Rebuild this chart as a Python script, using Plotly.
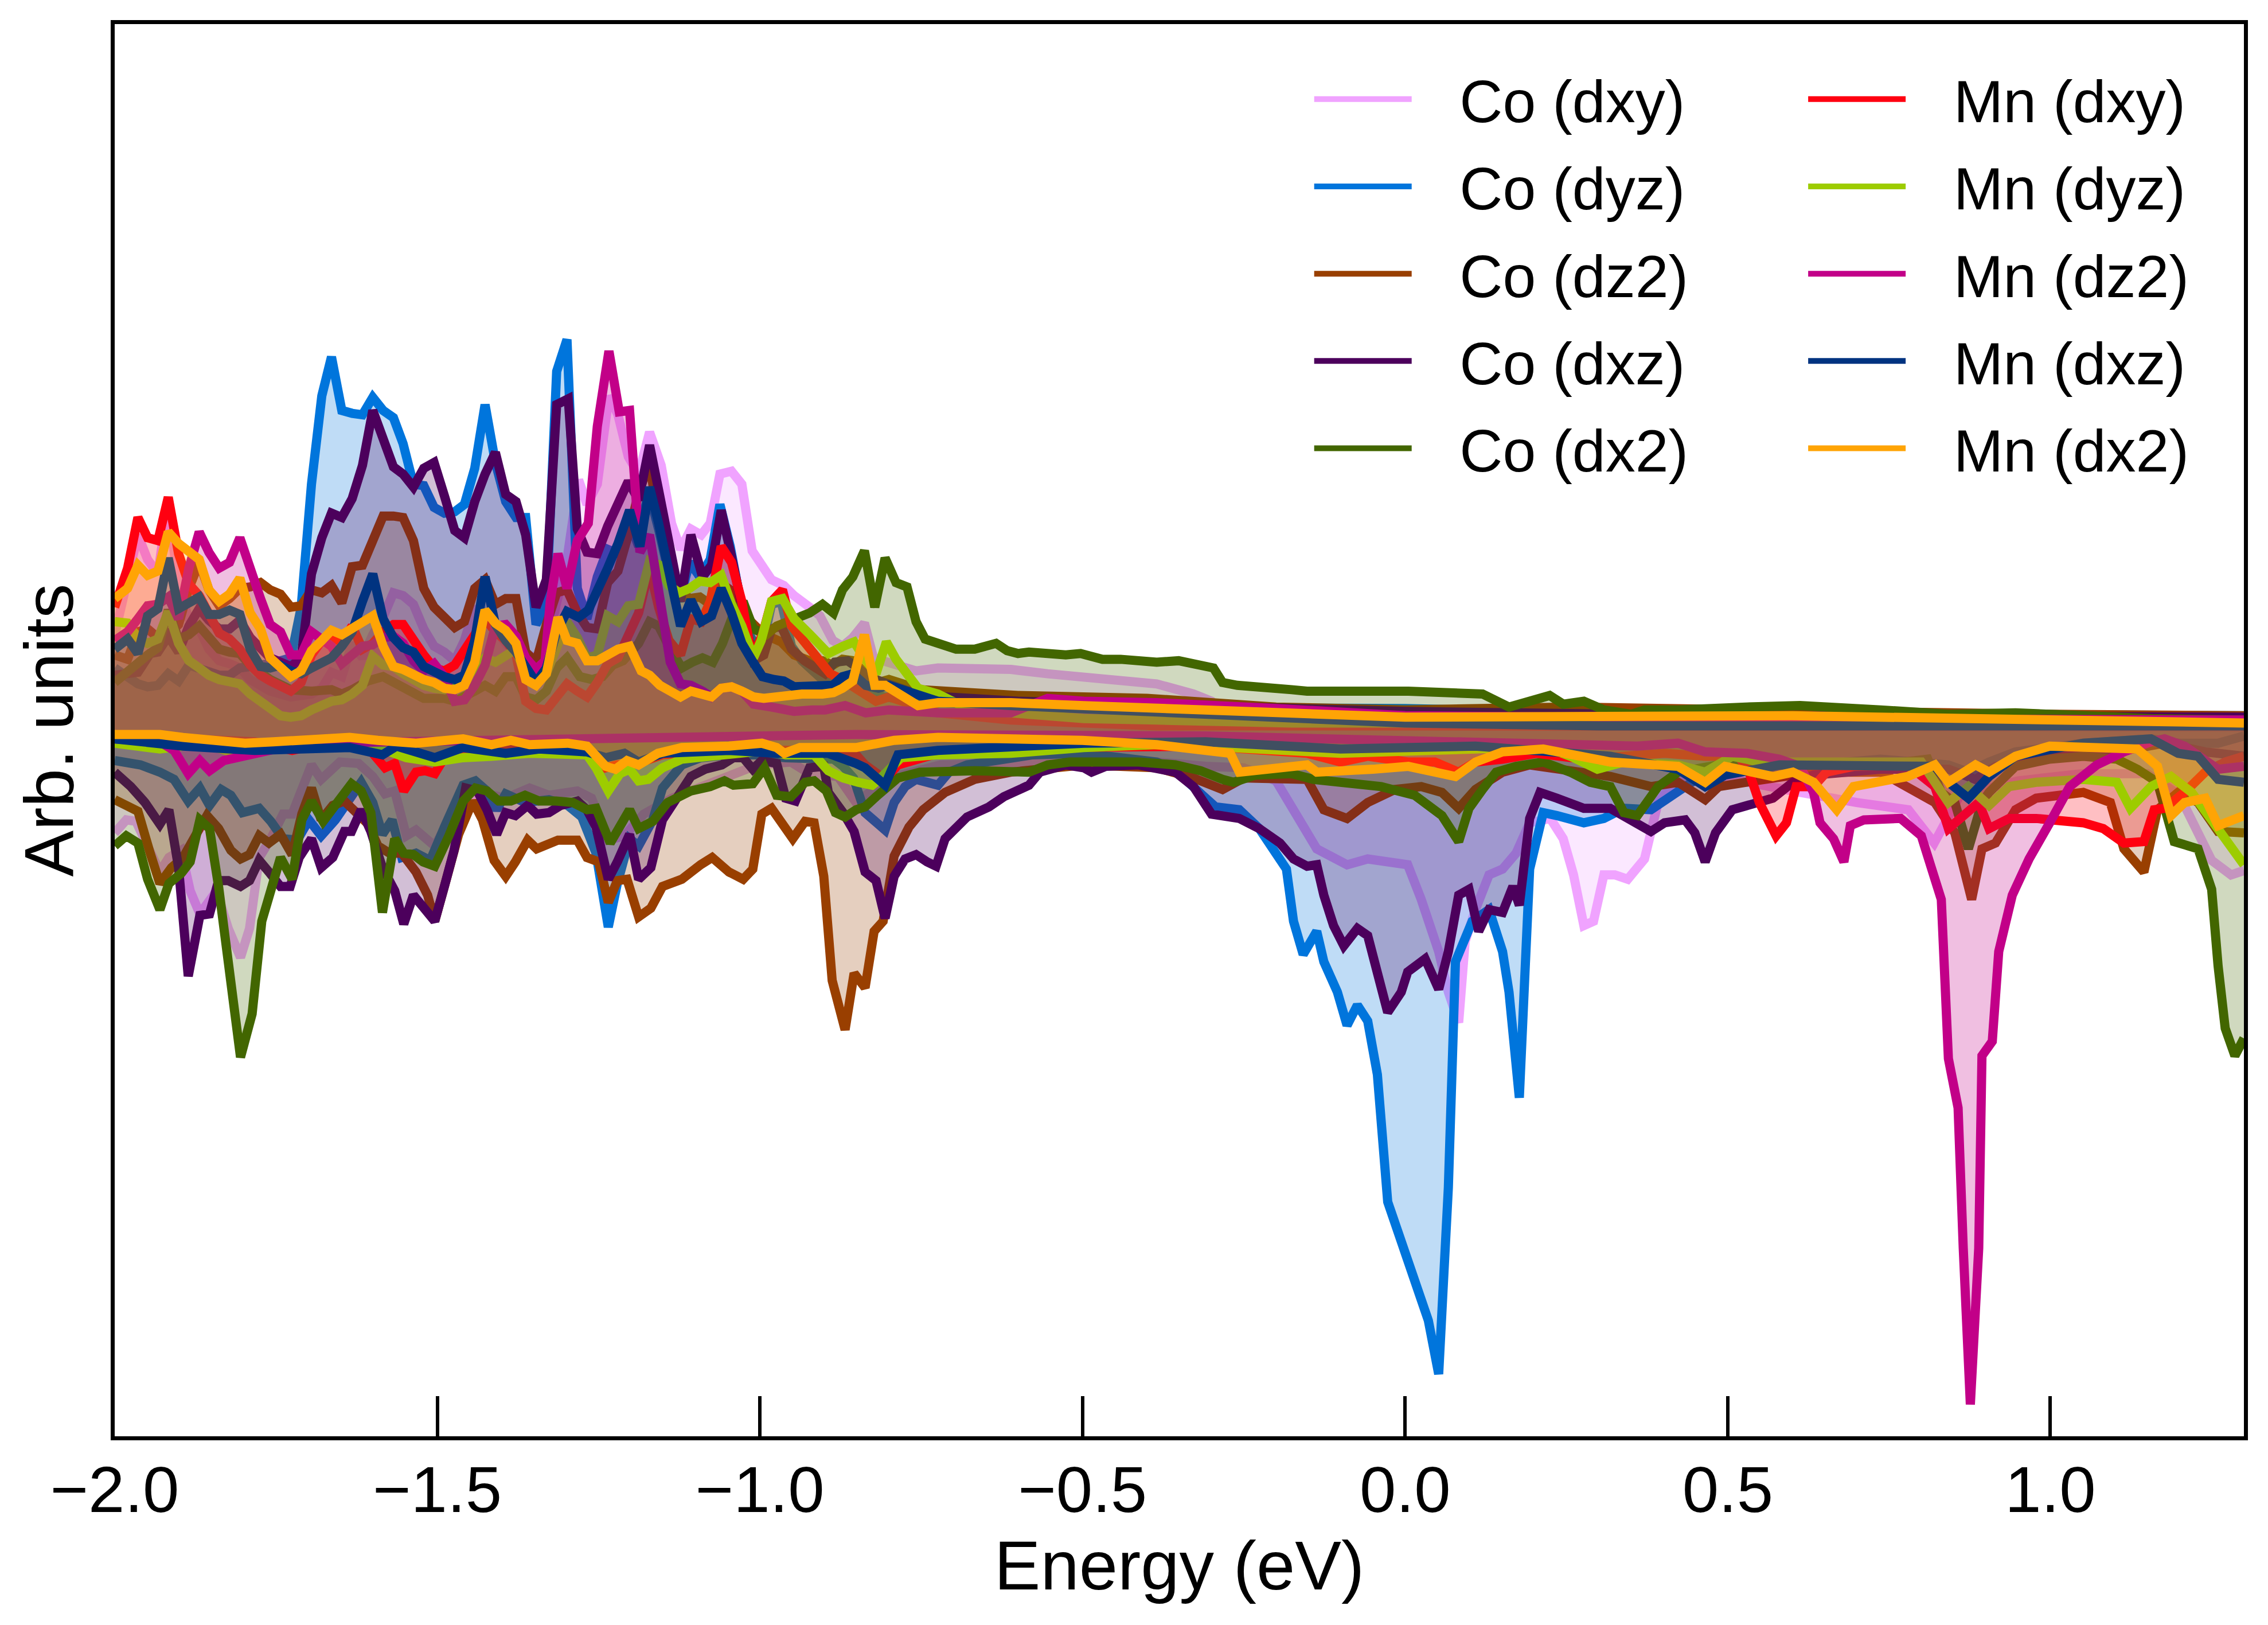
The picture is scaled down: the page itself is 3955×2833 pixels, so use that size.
import plotly.graph_objects as go

# (energy eV, DOS arb. units), spin up (>0) and spin down (<0)
CO_DXY_UP = [(-2.0, 0.66), (-1.98, 1.08), (-1.964, 1.35), (-1.949, 1.18), (-1.933, 1.08), (-1.917, 1.58),
             (-1.901, 0.98), (-1.885, 0.77), (-1.869, 0.70), (-1.854, 0.56), (-1.838, 0.48), (-1.822, 0.46),
             (-1.806, 0.43), (-1.79, 0.35), (-1.759, 0.27), (-1.727, 0.23), (-1.695, 0.25), (-1.679, 0.29),
             (-1.664, 0.40), (-1.648, 0.37), (-1.632, 0.60), (-1.616, 0.50), (-1.60, 0.66), (-1.584, 0.78),
             (-1.568, 0.95), (-1.553, 0.93), (-1.537, 0.87), (-1.521, 0.70), (-1.505, 0.58), (-1.489, 0.54),
             (-1.473, 0.48), (-1.458, 0.62), (-1.442, 0.85), (-1.426, 0.77), (-1.41, 0.70), (-1.394, 0.60),
             (-1.378, 0.55), (-1.347, 0.50), (-1.331, 0.58), (-1.299, 1.18), (-1.281, 1.73), (-1.268, 1.56),
             (-1.252, 1.70), (-1.234, 2.31), (-1.22, 2.18), (-1.204, 1.89), (-1.188, 1.77), (-1.171, 2.06),
             (-1.153, 1.83), (-1.137, 1.43), (-1.123, 1.25), (-1.107, 1.39), (-1.091, 1.35), (-1.077, 1.43),
             (-1.062, 1.77), (-1.044, 1.79), (-1.028, 1.70), (-1.012, 1.24), (-0.996, 1.14), (-0.982, 1.04),
             (-0.963, 1.00), (-0.947, 0.93), (-0.923, 0.85), (-0.907, 0.79), (-0.887, 0.62), (-0.872, 0.58),
             (-0.856, 0.64), (-0.838, 0.74), (-0.824, 0.50), (-0.808, 0.48), (-0.758, 0.41), (-0.724, 0.43),
             (-0.611, 0.42), (-0.554, 0.39), (-0.441, 0.34), (-0.385, 0.32), (-0.328, 0.25), (-0.30, 0.20),
             (-0.29, 0.15), (-0.28, 0.06), (-0.2, 0.03), (0.0, 0.03), (0.5, 0.02), (1.0, 0.02), (1.3, 0.02)]
CO_DXY_DN = [(-2.0, -0.71), (-1.982, -0.62), (-1.967, -0.63), (-1.945, -0.85), (-1.93, -0.98), (-1.916, -0.88),
             (-1.897, -0.83), (-1.883, -1.11), (-1.868, -1.27), (-1.842, -1.11), (-1.824, -1.37), (-1.805, -1.57),
             (-1.791, -1.37), (-1.776, -0.88), (-1.758, -0.75), (-1.739, -0.58), (-1.725, -0.58), (-1.695, -0.24),
             (-1.68, -0.34), (-1.651, -0.22), (-1.622, -0.23), (-1.60, -0.32), (-1.581, -0.44), (-1.566, -0.42),
             (-1.548, -0.73), (-1.533, -0.69), (-1.504, -0.80), (-1.46, -0.45), (-1.423, -0.44), (-1.394, -0.47),
             (-1.357, -0.40), (-1.327, -0.45), (-1.305, -0.44), (-1.283, -0.42), (-1.261, -0.47), (-1.235, -0.76),
             (-1.21, -0.73), (-1.18, -0.58), (-1.136, -0.47), (-1.092, -0.39), (-1.048, -0.32), (-1.004, -0.24),
             (-0.952, -0.22), (-0.923, -0.30), (-0.879, -0.32), (-0.851, -0.50), (-0.83, -0.43), (-0.781, -0.31),
             (-0.72, -0.24), (-0.5, -0.22), (-0.385, -0.22), (-0.309, -0.25), (-0.25, -0.26), (-0.2, -0.35),
             (-0.137, -0.82), (-0.09, -0.93), (-0.058, -0.89), (0.004, -0.93), (0.025, -1.17), (0.052, -1.53),
             (0.067, -1.81), (0.083, -2.02), (0.093, -1.46), (0.109, -1.24), (0.13, -1.00), (0.151, -0.96),
             (0.172, -0.85), (0.193, -0.64), (0.225, -0.61), (0.245, -0.75), (0.261, -1.00), (0.277, -1.35),
             (0.292, -1.32), (0.308, -1.00), (0.325, -1.00), (0.345, -1.03), (0.371, -0.89), (0.392, -0.50),
             (0.423, -0.32), (0.486, -0.32), (0.528, -0.36), (0.60, -0.42), (0.70, -0.50), (0.78, -0.55),
             (0.82, -0.78), (0.86, -0.45), (0.95, -0.35), (1.05, -0.30), (1.15, -0.30), (1.20, -0.45),
             (1.25, -0.90), (1.28, -1.00), (1.30, -0.97)]

CO_DYZ_UP = [(-2.0, 0.43), (-1.964, 0.32), (-1.949, 0.30), (-1.933, 0.31), (-1.917, 0.39), (-1.901, 0.34),
             (-1.885, 0.45), (-1.869, 0.43), (-1.838, 0.38), (-1.822, 0.38), (-1.806, 0.43), (-1.79, 0.44),
             (-1.759, 0.46), (-1.727, 0.50), (-1.711, 0.85), (-1.695, 1.70), (-1.679, 2.31), (-1.664, 2.58),
             (-1.648, 2.21), (-1.632, 2.19), (-1.616, 2.18), (-1.60, 2.30), (-1.584, 2.21), (-1.568, 2.16),
             (-1.553, 1.98), (-1.537, 1.70), (-1.521, 1.69), (-1.505, 1.54), (-1.489, 1.50), (-1.473, 1.51),
             (-1.458, 1.56), (-1.442, 1.81), (-1.426, 2.25), (-1.41, 1.85), (-1.394, 1.58), (-1.378, 1.47),
             (-1.363, 1.47), (-1.347, 0.73), (-1.331, 0.87), (-1.315, 2.48), (-1.299, 2.70), (-1.283, 0.98),
             (-1.268, 0.77), (-1.252, 1.06), (-1.236, 1.25), (-1.22, 1.22), (-1.204, 1.47), (-1.188, 1.27),
             (-1.173, 1.66), (-1.157, 1.39), (-1.141, 1.08), (-1.125, 0.89), (-1.109, 1.16), (-1.093, 1.06),
             (-1.077, 1.18), (-1.062, 1.56), (-1.046, 1.27), (-1.03, 0.89), (-1.014, 0.64), (-0.998, 0.54),
             (-0.982, 0.87), (-0.967, 0.89), (-0.951, 0.58), (-0.935, 0.48), (-0.919, 0.41), (-0.903, 0.35),
             (-0.887, 0.33), (-0.864, 0.33), (-0.848, 0.31), (-0.832, 0.27), (-0.808, 0.23), (-0.75, 0.20),
             (-0.60, 0.16), (-0.30, 0.16), (0.0, 0.15), (0.10, 0.14), (0.20, 0.12), (0.50, 0.12), (0.80, 0.11),
             (1.0, 0.10), (1.3, 0.10)]
CO_DYZ_DN = [(-2.0, -0.21), (-1.96, -0.24), (-1.93, -0.29), (-1.908, -0.34), (-1.886, -0.49), (-1.868, -0.40),
             (-1.853, -0.52), (-1.835, -0.41), (-1.82, -0.45), (-1.802, -0.57), (-1.776, -0.54), (-1.758, -0.63),
             (-1.739, -0.75), (-1.717, -0.76), (-1.699, -0.62), (-1.68, -0.73), (-1.658, -0.62), (-1.636, -0.49),
             (-1.618, -0.36), (-1.60, -0.50), (-1.585, -0.72), (-1.57, -0.62), (-1.555, -0.88), (-1.533, -0.85),
             (-1.511, -0.90), (-1.489, -0.67), (-1.46, -0.38), (-1.441, -0.35), (-1.423, -0.42), (-1.408, -0.55),
             (-1.394, -0.44), (-1.364, -0.50), (-1.327, -0.48), (-1.298, -0.52), (-1.276, -0.60), (-1.254, -0.85),
             (-1.235, -1.36), (-1.221, -1.06), (-1.202, -0.75), (-1.188, -0.80), (-1.166, -0.62), (-1.151, -0.40),
             (-1.121, -0.24), (-1.092, -0.19), (-1.048, -0.17), (-1.004, -0.17), (-0.96, -0.19), (-0.886, -0.20),
             (-0.871, -0.25), (-0.855, -0.33), (-0.837, -0.57), (-0.806, -0.69), (-0.792, -0.50), (-0.775, -0.39),
             (-0.758, -0.34), (-0.724, -0.38), (-0.707, -0.29), (-0.679, -0.24), (-0.634, -0.21), (-0.577, -0.17),
             (-0.498, -0.16), (-0.441, -0.19), (-0.385, -0.22), (-0.356, -0.28), (-0.328, -0.39), (-0.294, -0.53),
             (-0.257, -0.55), (-0.226, -0.68), (-0.184, -0.96), (-0.173, -1.32), (-0.158, -1.55), (-0.137, -1.39),
             (-0.126, -1.60), (-0.105, -1.81), (-0.09, -2.04), (-0.074, -1.90), (-0.058, -2.01), (-0.043, -2.38),
             (-0.027, -3.26), (-0.006, -3.55), (0.01, -3.76), (0.025, -3.93), (0.036, -4.08), (0.052, -4.45),
             (0.067, -3.16), (0.078, -1.60), (0.104, -1.32), (0.13, -1.24), (0.151, -1.53), (0.161, -1.81),
             (0.177, -2.54), (0.193, -0.96), (0.214, -0.57), (0.235, -0.59), (0.277, -0.64), (0.308, -0.61),
             (0.339, -0.54), (0.381, -0.55), (0.423, -0.43), (0.444, -0.36), (0.486, -0.29), (0.528, -0.27),
             (0.633, -0.24), (0.737, -0.20), (0.842, -0.24), (0.873, -0.29), (0.905, -0.22), (0.946, -0.15),
             (1.051, -0.09), (1.156, -0.06), (1.198, -0.09), (1.26, -0.09), (1.30, -0.04)]

CO_DZ2_UP = [(-2.0, 0.52), (-1.98, 0.49), (-1.964, 0.68), (-1.949, 0.70), (-1.933, 0.64), (-1.917, 0.66),
             (-1.901, 0.73), (-1.885, 0.98), (-1.869, 1.16), (-1.854, 0.97), (-1.838, 0.86), (-1.822, 0.91),
             (-1.806, 0.98), (-1.79, 0.99), (-1.774, 1.02), (-1.759, 0.97), (-1.743, 0.94), (-1.727, 0.85),
             (-1.711, 0.86), (-1.695, 0.97), (-1.679, 0.95), (-1.664, 1.00), (-1.648, 0.88), (-1.632, 1.13),
             (-1.616, 1.14), (-1.60, 1.33), (-1.584, 1.48), (-1.568, 1.48), (-1.553, 1.47), (-1.537, 1.31),
             (-1.521, 0.98), (-1.505, 0.85), (-1.489, 0.78), (-1.473, 0.71), (-1.458, 0.75), (-1.442, 0.98),
             (-1.426, 1.04), (-1.41, 0.87), (-1.394, 0.91), (-1.378, 0.91), (-1.363, 0.54), (-1.347, 0.47),
             (-1.331, 0.73), (-1.315, 0.95), (-1.299, 0.97), (-1.283, 0.81), (-1.268, 0.71), (-1.252, 0.70),
             (-1.236, 1.02), (-1.22, 1.10), (-1.204, 1.35), (-1.188, 1.64), (-1.171, 1.85), (-1.157, 1.43),
             (-1.141, 1.12), (-1.125, 0.97), (-1.109, 0.91), (-1.093, 0.92), (-1.077, 0.87), (-1.062, 1.02),
             (-1.046, 0.97), (-1.03, 0.89), (-1.014, 0.75), (-0.998, 0.68), (-0.982, 0.64), (-0.967, 0.61),
             (-0.947, 0.52), (-0.923, 0.48), (-0.903, 0.48), (-0.887, 0.45), (-0.872, 0.49), (-0.856, 0.48),
             (-0.836, 0.39), (-0.816, 0.33), (-0.80, 0.35), (-0.75, 0.28), (-0.60, 0.24), (-0.40, 0.22),
             (-0.20, 0.16), (0.0, 0.14), (0.25, 0.16), (0.50, 0.14), (1.0, 0.11), (1.3, 0.10)]
CO_DZ2_DN = [(-2.0, -0.48), (-1.982, -0.52), (-1.964, -0.56), (-1.945, -0.85), (-1.93, -1.06), (-1.912, -0.95),
             (-1.894, -0.88), (-1.875, -0.73), (-1.857, -0.59), (-1.839, -0.68), (-1.82, -0.83), (-1.805, -0.89),
             (-1.791, -0.86), (-1.776, -0.73), (-1.761, -0.78), (-1.743, -0.72), (-1.725, -0.86), (-1.71, -0.58),
             (-1.695, -0.40), (-1.68, -0.62), (-1.662, -0.52), (-1.644, -0.49), (-1.625, -0.57), (-1.607, -0.65),
             (-1.592, -0.80), (-1.574, -0.85), (-1.555, -0.85), (-1.533, -0.98), (-1.515, -1.14), (-1.504, -1.32),
             (-1.489, -1.08), (-1.467, -0.72), (-1.445, -0.49), (-1.43, -0.62), (-1.412, -0.90), (-1.394, -1.01),
             (-1.379, -0.91), (-1.36, -0.76), (-1.346, -0.82), (-1.331, -0.79), (-1.313, -0.76), (-1.283, -0.76),
             (-1.268, -0.88), (-1.25, -0.91), (-1.235, -1.19), (-1.221, -1.04), (-1.206, -1.03), (-1.188, -1.29),
             (-1.169, -1.23), (-1.151, -1.08), (-1.121, -1.03), (-1.092, -0.93), (-1.074, -0.88), (-1.048, -0.98),
             (-1.026, -1.03), (-1.011, -0.96), (-0.997, -0.58), (-0.982, -0.54), (-0.963, -0.67), (-0.949, -0.75),
             (-0.93, -0.63), (-0.916, -0.64), (-0.901, -1.01), (-0.888, -1.73), (-0.868, -2.07), (-0.854, -1.68),
             (-0.837, -1.78), (-0.823, -1.39), (-0.809, -1.32), (-0.792, -0.87), (-0.769, -0.67), (-0.747, -0.55),
             (-0.713, -0.43), (-0.667, -0.34), (-0.611, -0.29), (-0.554, -0.26), (-0.498, -0.24), (-0.385, -0.26),
             (-0.328, -0.33), (-0.283, -0.41), (-0.25, -0.33), (-0.152, -0.34), (-0.126, -0.55), (-0.09, -0.61),
             (-0.058, -0.50), (-0.016, -0.41), (0.025, -0.39), (0.057, -0.43), (0.083, -0.54), (0.109, -0.41),
             (0.151, -0.29), (0.193, -0.24), (0.318, -0.32), (0.381, -0.39), (0.423, -0.36), (0.465, -0.48),
             (0.486, -0.39), (0.528, -0.36), (0.633, -0.29), (0.737, -0.29), (0.821, -0.50), (0.852, -0.71),
             (0.878, -1.17), (0.894, -0.82), (0.915, -0.78), (0.946, -0.55), (0.978, -0.47), (1.051, -0.43),
             (1.093, -0.50), (1.114, -0.82), (1.145, -0.98), (1.166, -0.55), (1.198, -0.43), (1.229, -0.50),
             (1.26, -0.70), (1.30, -0.71)]

CO_DXZ_UP = [(-2.0, 0.38), (-1.964, 0.40), (-1.945, 0.53), (-1.933, 0.54), (-1.917, 0.65), (-1.901, 0.54),
             (-1.885, 0.72), (-1.869, 0.84), (-1.854, 0.76), (-1.838, 0.70), (-1.822, 0.70), (-1.806, 0.76),
             (-1.79, 0.64), (-1.759, 0.50), (-1.727, 0.44), (-1.711, 0.50), (-1.695, 1.08), (-1.679, 1.33),
             (-1.664, 1.50), (-1.648, 1.47), (-1.632, 1.60), (-1.616, 1.83), (-1.60, 2.21), (-1.584, 2.02),
             (-1.568, 1.82), (-1.553, 1.77), (-1.537, 1.68), (-1.521, 1.81), (-1.505, 1.85), (-1.489, 1.62),
             (-1.473, 1.38), (-1.458, 1.33), (-1.442, 1.58), (-1.426, 1.77), (-1.41, 1.92), (-1.394, 1.63),
             (-1.378, 1.58), (-1.363, 1.35), (-1.347, 0.85), (-1.331, 1.04), (-1.315, 2.25), (-1.297, 2.29),
             (-1.283, 1.39), (-1.268, 1.23), (-1.252, 1.22), (-1.236, 1.41), (-1.22, 1.58), (-1.204, 1.72),
             (-1.188, 1.59), (-1.171, 1.97), (-1.157, 1.66), (-1.141, 1.27), (-1.123, 0.89), (-1.107, 1.35),
             (-1.089, 1.06), (-1.075, 1.14), (-1.06, 1.52), (-1.044, 1.20), (-1.028, 0.89), (-1.01, 0.48),
             (-0.994, 0.52), (-0.982, 0.70), (-0.967, 0.72), (-0.951, 0.56), (-0.931, 0.48), (-0.915, 0.43),
             (-0.899, 0.39), (-0.884, 0.47), (-0.864, 0.48), (-0.848, 0.43), (-0.832, 0.37), (-0.808, 0.33),
             (-0.75, 0.24), (-0.60, 0.20), (-0.40, 0.18), (-0.20, 0.16), (0.0, 0.13), (0.5, 0.10), (1.0, 0.09),
             (1.3, 0.09)]
CO_DXZ_DN = [(-2.0, -0.29), (-1.975, -0.39), (-1.953, -0.50), (-1.93, -0.65), (-1.916, -0.55), (-1.901, -0.95),
             (-1.886, -1.70), (-1.868, -1.28), (-1.853, -1.27), (-1.839, -1.04), (-1.824, -1.04), (-1.805, -1.08),
             (-1.791, -1.04), (-1.776, -0.90), (-1.761, -0.98), (-1.743, -1.08), (-1.728, -1.08), (-1.714, -0.88),
             (-1.695, -0.75), (-1.68, -0.95), (-1.662, -0.88), (-1.644, -0.70), (-1.633, -0.70), (-1.618, -0.55),
             (-1.603, -0.70), (-1.585, -0.95), (-1.566, -1.11), (-1.552, -1.34), (-1.537, -1.14), (-1.522, -1.23),
             (-1.504, -1.32), (-1.489, -1.08), (-1.474, -0.83), (-1.456, -0.40), (-1.438, -0.42), (-1.423, -0.55),
             (-1.408, -0.72), (-1.394, -0.57), (-1.379, -0.59), (-1.36, -0.52), (-1.346, -0.58), (-1.327, -0.57),
             (-1.309, -0.52), (-1.283, -0.49), (-1.268, -0.55), (-1.254, -0.67), (-1.235, -1.03), (-1.221, -0.91),
             (-1.202, -0.72), (-1.188, -1.03), (-1.169, -0.95), (-1.151, -0.62), (-1.121, -0.42), (-1.107, -0.32),
             (-1.085, -0.27), (-1.059, -0.24), (-1.041, -0.19), (-1.026, -0.19), (-1.011, -0.27), (-0.997, -0.21),
             (-0.974, -0.23), (-0.96, -0.47), (-0.945, -0.49), (-0.923, -0.26), (-0.901, -0.25), (-0.894, -0.43),
             (-0.871, -0.57), (-0.854, -0.70), (-0.837, -0.98), (-0.82, -1.04), (-0.806, -1.30), (-0.792, -1.01),
             (-0.775, -0.89), (-0.758, -0.86), (-0.741, -0.91), (-0.727, -0.94), (-0.713, -0.75), (-0.679, -0.60),
             (-0.645, -0.53), (-0.622, -0.46), (-0.583, -0.38), (-0.566, -0.29), (-0.526, -0.24), (-0.498, -0.26),
             (-0.486, -0.29), (-0.464, -0.25), (-0.413, -0.24), (-0.356, -0.29), (-0.328, -0.39), (-0.30, -0.58),
             (-0.257, -0.61), (-0.226, -0.68), (-0.194, -0.78), (-0.173, -0.89), (-0.152, -0.94), (-0.137, -0.93),
             (-0.126, -1.14), (-0.111, -1.35), (-0.095, -1.49), (-0.074, -1.37), (-0.058, -1.42), (-0.043, -1.70),
             (-0.027, -1.95), (-0.006, -1.81), (0.004, -1.67), (0.031, -1.58), (0.052, -1.79), (0.067, -1.53),
             (0.083, -1.14), (0.099, -1.10), (0.114, -1.39), (0.13, -1.24), (0.151, -1.26), (0.167, -1.08),
             (0.177, -1.21), (0.193, -0.61), (0.209, -0.43), (0.235, -0.47), (0.277, -0.54), (0.318, -0.54),
             (0.36, -0.64), (0.381, -0.70), (0.402, -0.64), (0.434, -0.62), (0.449, -0.71), (0.465, -0.91),
             (0.481, -0.71), (0.507, -0.55), (0.57, -0.47), (0.601, -0.36), (0.633, -0.31), (0.737, -0.27),
             (0.842, -0.27), (0.884, -0.34), (0.915, -0.25), (0.999, -0.18), (1.103, -0.15), (1.177, -0.09),
             (1.24, -0.15), (1.30, -0.18)]

CO_DX2_UP = [(-2.0, 0.33), (-1.98, 0.41), (-1.964, 0.48), (-1.949, 0.52), (-1.933, 0.57), (-1.917, 0.83),
             (-1.901, 0.63), (-1.885, 0.66), (-1.869, 0.72), (-1.854, 0.64), (-1.838, 0.56), (-1.822, 0.54),
             (-1.806, 0.53), (-1.79, 0.45), (-1.759, 0.35), (-1.727, 0.28), (-1.695, 0.27), (-1.664, 0.28),
             (-1.648, 0.25), (-1.632, 0.28), (-1.608, 0.34), (-1.584, 0.37), (-1.568, 0.33), (-1.553, 0.31),
             (-1.521, 0.22), (-1.489, 0.22), (-1.473, 0.20), (-1.442, 0.27), (-1.426, 0.31), (-1.41, 0.27),
             (-1.394, 0.37), (-1.378, 0.37), (-1.363, 0.23), (-1.347, 0.21), (-1.331, 0.27), (-1.315, 0.43),
             (-1.299, 0.50), (-1.279, 0.37), (-1.26, 0.35), (-1.244, 0.37), (-1.228, 0.45), (-1.212, 0.48),
             (-1.188, 0.60), (-1.171, 0.75), (-1.157, 0.72), (-1.141, 0.58), (-1.121, 0.43), (-1.105, 0.47),
             (-1.089, 0.50), (-1.073, 0.47), (-1.058, 0.60), (-1.042, 0.79), (-1.026, 0.89), (-1.01, 0.70),
             (-0.99, 0.66), (-0.974, 0.72), (-0.959, 0.75), (-0.943, 0.77), (-0.923, 0.81), (-0.903, 0.87),
             (-0.886, 0.81), (-0.872, 0.97), (-0.856, 1.06), (-0.838, 1.24), (-0.822, 0.85), (-0.806, 1.19),
             (-0.789, 1.02), (-0.772, 0.99), (-0.758, 0.75), (-0.744, 0.63), (-0.724, 0.60), (-0.696, 0.56),
             (-0.667, 0.56), (-0.634, 0.60), (-0.617, 0.55), (-0.60, 0.53), (-0.583, 0.54), (-0.526, 0.52),
             (-0.503, 0.53), (-0.469, 0.49), (-0.441, 0.49), (-0.385, 0.47), (-0.351, 0.48), (-0.317, 0.44),
             (-0.297, 0.43), (-0.283, 0.33), (-0.26, 0.31), (-0.176, 0.28), (-0.152, 0.27), (0.005, 0.27),
             (0.12, 0.25), (0.161, 0.16), (0.193, 0.20), (0.224, 0.24), (0.245, 0.18), (0.277, 0.20),
             (0.308, 0.14), (0.35, 0.11), (0.371, 0.14), (0.423, 0.14), (0.528, 0.16), (0.612, 0.17),
             (0.737, 0.14), (0.842, 0.11), (0.946, 0.12), (1.051, 0.10), (1.156, 0.08), (1.30, 0.07)]
CO_DX2_DN = [(-2.0, -0.80), (-1.982, -0.73), (-1.964, -0.78), (-1.949, -1.03), (-1.93, -1.24), (-1.916, -1.06),
             (-1.897, -0.99), (-1.883, -0.91), (-1.868, -0.62), (-1.853, -0.68), (-1.839, -1.08), (-1.824, -1.65),
             (-1.805, -2.26), (-1.787, -1.96), (-1.772, -1.32), (-1.743, -0.88), (-1.725, -1.03), (-1.71, -0.62),
             (-1.695, -0.49), (-1.677, -0.63), (-1.658, -0.52), (-1.633, -0.37), (-1.618, -0.42), (-1.603, -0.57),
             (-1.585, -1.26), (-1.566, -0.75), (-1.552, -0.85), (-1.537, -0.86), (-1.522, -0.91), (-1.504, -0.94),
             (-1.482, -0.73), (-1.46, -0.49), (-1.441, -0.40), (-1.423, -0.42), (-1.405, -0.49), (-1.386, -0.49),
             (-1.364, -0.45), (-1.342, -0.49), (-1.316, -0.49), (-1.29, -0.50), (-1.268, -0.55), (-1.254, -0.54),
             (-1.232, -0.78), (-1.202, -0.55), (-1.188, -0.68), (-1.166, -0.63), (-1.143, -0.50), (-1.107, -0.42),
             (-1.077, -0.39), (-1.055, -0.35), (-1.041, -0.38), (-1.011, -0.37), (-0.993, -0.26), (-0.974, -0.45),
             (-0.952, -0.46), (-0.93, -0.36), (-0.916, -0.35), (-0.897, -0.42), (-0.883, -0.57), (-0.868, -0.60),
             (-0.851, -0.55), (-0.837, -0.53), (-0.82, -0.46), (-0.803, -0.39), (-0.786, -0.33), (-0.752, -0.29),
             (-0.667, -0.28), (-0.583, -0.29), (-0.554, -0.24), (-0.52, -0.22), (-0.413, -0.22), (-0.356, -0.24),
             (-0.317, -0.28), (-0.283, -0.34), (-0.266, -0.36), (-0.232, -0.31), (-0.176, -0.30), (-0.142, -0.34),
             (-0.10, -0.36), (-0.037, -0.39), (0.015, -0.45), (0.057, -0.59), (0.083, -0.77), (0.099, -0.54),
             (0.12, -0.41), (0.141, -0.29), (0.172, -0.25), (0.214, -0.22), (0.256, -0.29), (0.287, -0.36),
             (0.318, -0.39), (0.339, -0.57), (0.36, -0.59), (0.392, -0.39), (0.423, -0.29), (0.455, -0.26),
             (0.486, -0.24), (0.737, -0.24), (0.79, -0.22), (0.81, -0.20), (0.831, -0.43), (0.852, -0.50),
             (0.873, -0.82), (0.894, -0.50), (0.905, -0.43), (0.946, -0.25), (0.999, -0.20), (1.051, -0.18),
             (1.103, -0.20), (1.135, -0.27), (1.166, -0.36), (1.192, -0.77), (1.229, -0.82), (1.25, -1.10),
             (1.26, -1.63), (1.271, -2.06), (1.286, -2.25), (1.30, -2.13)]

MN_DXY_UP = [(-2.0, 0.85), (-1.98, 1.12), (-1.964, 1.47), (-1.949, 1.33), (-1.933, 1.31), (-1.917, 1.61),
             (-1.901, 1.22), (-1.885, 1.01), (-1.869, 0.93), (-1.854, 0.79), (-1.838, 0.67), (-1.822, 0.63),
             (-1.806, 0.56), (-1.79, 0.45), (-1.774, 0.38), (-1.759, 0.34), (-1.727, 0.27), (-1.711, 0.33),
             (-1.695, 0.52), (-1.679, 0.62), (-1.664, 0.66), (-1.648, 0.60), (-1.632, 0.72), (-1.616, 0.56),
             (-1.60, 0.60), (-1.584, 0.68), (-1.568, 0.73), (-1.553, 0.73), (-1.537, 0.62), (-1.521, 0.52),
             (-1.505, 0.43), (-1.489, 0.41), (-1.473, 0.45), (-1.458, 0.54), (-1.442, 0.66), (-1.426, 0.77),
             (-1.41, 0.68), (-1.394, 0.62), (-1.378, 0.52), (-1.363, 0.20), (-1.347, 0.15), (-1.331, 0.14),
             (-1.315, 0.23), (-1.299, 0.32), (-1.283, 0.27), (-1.268, 0.23), (-1.252, 0.33), (-1.236, 0.46),
             (-1.22, 0.50), (-1.204, 0.66), (-1.188, 0.81), (-1.171, 1.12), (-1.157, 0.85), (-1.141, 0.62),
             (-1.123, 0.52), (-1.107, 0.77), (-1.091, 0.75), (-1.077, 0.89), (-1.06, 1.27), (-1.044, 1.16),
             (-1.028, 0.89), (-1.012, 0.50), (-0.996, 0.66), (-0.982, 0.89), (-0.965, 0.97), (-0.951, 0.72),
             (-0.931, 0.60), (-0.911, 0.50), (-0.891, 0.39), (-0.872, 0.35), (-0.852, 0.29), (-0.836, 0.25),
             (-0.82, 0.20), (-0.80, 0.23), (-0.758, 0.17), (-0.724, 0.12), (-0.611, 0.07), (-0.50, 0.05),
             (-0.385, 0.03), (0.0, 0.03), (0.5, 0.03), (1.3, 0.03)]
MN_DXY_DN = [(-2.0, -0.04), (-1.894, -0.06), (-1.783, -0.08), (-1.725, -0.14), (-1.695, -0.11), (-1.658, -0.11),
             (-1.622, -0.09), (-1.60, -0.16), (-1.581, -0.26), (-1.566, -0.23), (-1.552, -0.42), (-1.533, -0.29),
             (-1.519, -0.28), (-1.504, -0.30), (-1.489, -0.19), (-1.46, -0.16), (-1.416, -0.14), (-1.342, -0.12),
             (-1.268, -0.13), (-1.239, -0.26), (-1.221, -0.24), (-1.202, -0.24), (-1.184, -0.22), (-1.151, -0.17),
             (-1.048, -0.13), (-0.952, -0.14), (-0.851, -0.17), (-0.837, -0.24), (-0.806, -0.34), (-0.786, -0.24),
             (-0.724, -0.16), (-0.55, -0.12), (-0.309, -0.11), (-0.152, -0.16), (-0.10, -0.22), (-0.058, -0.18),
             (0.004, -0.22), (0.046, -0.22), (0.083, -0.29), (0.109, -0.22), (0.151, -0.20), (0.203, -0.16),
             (0.277, -0.20), (0.339, -0.18), (0.402, -0.16), (0.465, -0.18), (0.517, -0.18), (0.533, -0.29),
             (0.549, -0.50), (0.575, -0.73), (0.591, -0.64), (0.606, -0.39), (0.633, -0.39), (0.653, -0.29),
             (0.695, -0.25), (0.779, -0.24), (0.821, -0.39), (0.842, -0.68), (0.868, -0.57), (0.889, -0.50),
             (0.905, -0.68), (0.936, -0.61), (0.978, -0.61), (1.051, -0.64), (1.082, -0.68), (1.114, -0.78),
             (1.145, -0.77), (1.161, -0.55), (1.177, -0.54), (1.208, -0.43), (1.24, -0.29), (1.271, -0.22),
             (1.30, -0.18)]

MN_DYZ_UP = [(-2.0, 0.75), (-1.98, 0.74), (-1.964, 0.64), (-1.949, 0.60), (-1.933, 0.63), (-1.917, 0.82),
             (-1.901, 0.60), (-1.885, 0.48), (-1.869, 0.43), (-1.854, 0.38), (-1.838, 0.35), (-1.822, 0.34),
             (-1.806, 0.32), (-1.79, 0.25), (-1.759, 0.15), (-1.743, 0.10), (-1.727, 0.09), (-1.711, 0.10),
             (-1.695, 0.14), (-1.679, 0.18), (-1.664, 0.20), (-1.648, 0.21), (-1.632, 0.25), (-1.616, 0.31),
             (-1.60, 0.51), (-1.584, 0.45), (-1.568, 0.44), (-1.553, 0.39), (-1.537, 0.35), (-1.521, 0.31),
             (-1.505, 0.29), (-1.489, 0.28), (-1.473, 0.31), (-1.458, 0.35), (-1.442, 0.43), (-1.426, 0.50),
             (-1.41, 0.47), (-1.394, 0.51), (-1.378, 0.56), (-1.363, 0.37), (-1.347, 0.33), (-1.331, 0.39),
             (-1.315, 0.58), (-1.299, 0.75), (-1.283, 0.64), (-1.268, 0.50), (-1.252, 0.52), (-1.236, 0.79),
             (-1.22, 0.75), (-1.204, 0.86), (-1.188, 0.87), (-1.171, 1.17), (-1.155, 1.14), (-1.141, 1.00),
             (-1.125, 0.95), (-1.109, 0.98), (-1.093, 1.03), (-1.077, 1.02), (-1.06, 1.07), (-1.044, 0.87),
             (-1.028, 0.72), (-1.01, 0.50), (-0.998, 0.62), (-0.982, 0.89), (-0.965, 0.91), (-0.947, 0.77),
             (-0.922, 0.66), (-0.894, 0.53), (-0.871, 0.58), (-0.854, 0.61), (-0.837, 0.49), (-0.82, 0.39),
             (-0.804, 0.61), (-0.789, 0.49), (-0.772, 0.39), (-0.755, 0.29), (-0.724, 0.25), (-0.679, 0.15),
             (-0.611, 0.12), (-0.554, 0.10), (-0.498, 0.08), (-0.385, 0.07), (-0.176, 0.05), (0.3, 0.05),
             (1.3, 0.05)]
MN_DYZ_DN = [(-2.0, -0.09), (-1.93, -0.13), (-1.894, -0.11), (-1.857, -0.10), (-1.813, -0.16), (-1.783, -0.12),
             (-1.747, -0.09), (-1.673, -0.09), (-1.592, -0.12), (-1.548, -0.19), (-1.504, -0.22), (-1.46, -0.19),
             (-1.416, -0.18), (-1.357, -0.16), (-1.268, -0.17), (-1.254, -0.26), (-1.235, -0.42), (-1.217, -0.30),
             (-1.202, -0.27), (-1.188, -0.35), (-1.173, -0.34), (-1.151, -0.26), (-1.121, -0.20), (-1.048, -0.16),
             (-0.989, -0.14), (-0.96, -0.17), (-0.916, -0.17), (-0.894, -0.28), (-0.871, -0.33), (-0.848, -0.36),
             (-0.826, -0.38), (-0.815, -0.34), (-0.798, -0.26), (-0.781, -0.19), (-0.724, -0.17), (-0.611, -0.16),
             (-0.498, -0.12), (-0.385, -0.10), (-0.271, -0.12), (-0.176, -0.15), (-0.10, -0.16), (0.109, -0.13),
             (0.214, -0.11), (0.256, -0.18), (0.298, -0.27), (0.339, -0.22), (0.423, -0.24), (0.465, -0.29),
             (0.507, -0.18), (0.549, -0.22), (0.80, -0.22), (0.842, -0.50), (0.873, -0.39), (0.905, -0.52),
             (0.936, -0.39), (0.978, -0.36), (1.051, -0.34), (1.103, -0.36), (1.124, -0.54), (1.156, -0.39),
             (1.187, -0.32), (1.219, -0.43), (1.26, -0.68), (1.30, -0.93)]

MN_DZ2_UP = [(-2.0, 0.62), (-1.98, 0.68), (-1.964, 0.77), (-1.949, 0.86), (-1.933, 0.87), (-1.917, 0.92),
             (-1.901, 0.77), (-1.885, 1.12), (-1.869, 1.37), (-1.854, 1.23), (-1.838, 1.12), (-1.822, 1.16),
             (-1.806, 1.33), (-1.79, 1.10), (-1.774, 0.91), (-1.759, 0.73), (-1.743, 0.68), (-1.727, 0.52),
             (-1.711, 0.52), (-1.695, 0.68), (-1.679, 0.62), (-1.664, 0.58), (-1.648, 0.46), (-1.632, 0.52),
             (-1.616, 0.58), (-1.60, 0.59), (-1.584, 0.64), (-1.568, 0.65), (-1.553, 0.60), (-1.537, 0.48),
             (-1.521, 0.41), (-1.505, 0.46), (-1.489, 0.37), (-1.473, 0.20), (-1.458, 0.21), (-1.442, 0.31),
             (-1.426, 0.45), (-1.41, 0.72), (-1.394, 0.73), (-1.378, 0.65), (-1.363, 0.50), (-1.347, 0.42),
             (-1.333, 0.48), (-1.325, 0.89), (-1.313, 1.22), (-1.299, 0.98), (-1.283, 1.31), (-1.266, 1.43),
             (-1.252, 2.10), (-1.234, 2.62), (-1.218, 2.20), (-1.202, 2.21), (-1.186, 1.23), (-1.171, 1.35),
             (-1.153, 0.89), (-1.139, 0.47), (-1.123, 0.32), (-1.107, 0.31), (-1.089, 0.27), (-1.075, 0.23),
             (-1.06, 0.29), (-1.044, 0.30), (-1.028, 0.27), (-1.01, 0.18), (-0.982, 0.16), (-0.947, 0.13),
             (-0.919, 0.14), (-0.899, 0.14), (-0.868, 0.17), (-0.836, 0.12), (-0.80, 0.14), (-0.724, 0.12),
             (-0.611, 0.12), (-0.554, 0.22), (-0.498, 0.20), (-0.385, 0.19), (-0.20, 0.15), (0.0, 0.10),
             (0.5, 0.08), (1.0, 0.07), (1.3, 0.07)]
MN_DZ2_DN = [(-2.0, -0.06), (-1.93, -0.08), (-1.908, -0.14), (-1.886, -0.30), (-1.868, -0.21), (-1.853, -0.28),
             (-1.831, -0.21), (-1.798, -0.17), (-1.761, -0.14), (-1.71, -0.09), (-1.563, -0.08), (-1.416, -0.06),
             (-0.851, -0.03), (-0.309, -0.04), (0.109, -0.09), (0.36, -0.11), (0.423, -0.09), (0.465, -0.15),
             (0.53, -0.16), (0.58, -0.20), (0.612, -0.25), (0.633, -0.43), (0.643, -0.64), (0.664, -0.75),
             (0.68, -0.91), (0.69, -0.66), (0.711, -0.62), (0.737, -0.61), (0.768, -0.61), (0.80, -0.73),
             (0.816, -0.96), (0.831, -1.17), (0.842, -2.27), (0.857, -2.61), (0.865, -3.58), (0.876, -4.66),
             (0.889, -3.58), (0.894, -2.25), (0.91, -2.15), (0.92, -1.53), (0.941, -1.14), (0.967, -0.89),
             (0.999, -0.64), (1.03, -0.39), (1.072, -0.24), (1.114, -0.15), (1.156, -0.08), (1.177, -0.06),
             (1.208, -0.11), (1.24, -0.22), (1.26, -0.27), (1.30, -0.25)]

MN_DXZ_UP = [(-2.0, 0.56), (-1.98, 0.63), (-1.964, 0.53), (-1.949, 0.79), (-1.933, 0.84), (-1.917, 1.19),
             (-1.901, 0.84), (-1.885, 0.88), (-1.869, 0.92), (-1.854, 0.80), (-1.838, 0.80), (-1.822, 0.83),
             (-1.806, 0.80), (-1.79, 0.56), (-1.774, 0.44), (-1.759, 0.43), (-1.743, 0.45), (-1.727, 0.41),
             (-1.711, 0.39), (-1.695, 0.43), (-1.679, 0.47), (-1.664, 0.50), (-1.648, 0.58), (-1.632, 0.68),
             (-1.616, 0.89), (-1.60, 1.08), (-1.584, 0.77), (-1.568, 0.64), (-1.553, 0.57), (-1.537, 0.54),
             (-1.521, 0.44), (-1.505, 0.40), (-1.489, 0.37), (-1.473, 0.35), (-1.458, 0.38), (-1.442, 0.62),
             (-1.426, 1.06), (-1.41, 0.73), (-1.394, 0.62), (-1.378, 0.54), (-1.363, 0.43), (-1.347, 0.33),
             (-1.331, 0.43), (-1.315, 0.68), (-1.299, 0.82), (-1.281, 0.78), (-1.266, 0.83), (-1.252, 0.95),
             (-1.236, 1.12), (-1.22, 1.29), (-1.202, 1.52), (-1.186, 1.27), (-1.171, 1.68), (-1.157, 1.43),
             (-1.141, 1.12), (-1.123, 0.72), (-1.107, 0.90), (-1.091, 0.75), (-1.075, 0.79), (-1.06, 0.98),
             (-1.044, 0.81), (-1.028, 0.60), (-1.012, 0.48), (-0.996, 0.37), (-0.978, 0.35), (-0.963, 0.34),
             (-0.947, 0.30), (-0.923, 0.31), (-0.887, 0.31), (-0.872, 0.37), (-0.856, 0.39), (-0.836, 0.31),
             (-0.816, 0.29), (-0.80, 0.31), (-0.758, 0.25), (-0.724, 0.20), (-0.611, 0.17), (-0.498, 0.15),
             (-0.385, 0.12), (-0.20, 0.09), (0.0, 0.05), (0.3, 0.03), (1.3, 0.03)]
MN_DXZ_DN = [(-2.0, -0.06), (-1.894, -0.11), (-1.783, -0.14), (-1.636, -0.12), (-1.585, -0.17), (-1.563, -0.11),
             (-1.504, -0.19), (-1.46, -0.12), (-1.394, -0.16), (-1.342, -0.13), (-1.268, -0.15), (-1.239, -0.19),
             (-1.21, -0.16), (-1.188, -0.22), (-1.151, -0.16), (-1.048, -0.14), (-0.974, -0.16), (-0.894, -0.16),
             (-0.851, -0.23), (-0.837, -0.26), (-0.806, -0.38), (-0.786, -0.17), (-0.724, -0.14), (-0.611, -0.12),
             (-0.498, -0.09), (-0.309, -0.08), (-0.10, -0.13), (0.109, -0.11), (0.318, -0.18), (0.423, -0.27),
             (0.465, -0.39), (0.496, -0.31), (0.58, -0.24), (0.821, -0.25), (0.842, -0.36), (0.873, -0.47),
             (0.905, -0.32), (0.946, -0.18), (1.051, -0.09), (1.156, -0.06), (1.198, -0.16), (1.229, -0.18),
             (1.26, -0.34), (1.30, -0.36)]

MN_DX2_UP = [(-2.0, 0.91), (-1.98, 0.98), (-1.964, 1.14), (-1.949, 1.07), (-1.933, 1.10), (-1.917, 1.37),
             (-1.901, 1.29), (-1.885, 1.24), (-1.869, 1.18), (-1.854, 0.97), (-1.838, 0.89), (-1.822, 0.94),
             (-1.806, 1.05), (-1.79, 0.81), (-1.774, 0.70), (-1.759, 0.50), (-1.743, 0.44), (-1.727, 0.37),
             (-1.711, 0.41), (-1.695, 0.55), (-1.679, 0.62), (-1.664, 0.69), (-1.648, 0.66), (-1.632, 0.70),
             (-1.616, 0.74), (-1.60, 0.79), (-1.584, 0.58), (-1.568, 0.44), (-1.553, 0.42), (-1.537, 0.38),
             (-1.521, 0.35), (-1.505, 0.33), (-1.489, 0.29), (-1.473, 0.28), (-1.458, 0.31), (-1.442, 0.47),
             (-1.426, 0.83), (-1.41, 0.74), (-1.394, 0.69), (-1.378, 0.60), (-1.363, 0.35), (-1.347, 0.31),
             (-1.331, 0.39), (-1.313, 0.78), (-1.299, 0.62), (-1.283, 0.60), (-1.268, 0.48), (-1.252, 0.48),
             (-1.236, 0.52), (-1.22, 0.56), (-1.202, 0.58), (-1.184, 0.41), (-1.171, 0.38), (-1.155, 0.31),
             (-1.139, 0.27), (-1.123, 0.23), (-1.107, 0.27), (-1.091, 0.25), (-1.075, 0.23), (-1.06, 0.29),
             (-1.044, 0.30), (-1.028, 0.27), (-1.01, 0.23), (-0.994, 0.22), (-0.978, 0.23), (-0.963, 0.24),
             (-0.935, 0.25), (-0.903, 0.25), (-0.886, 0.26), (-0.872, 0.29), (-0.856, 0.34), (-0.838, 0.66),
             (-0.822, 0.31), (-0.806, 0.31), (-0.755, 0.17), (-0.724, 0.19), (-0.611, 0.19), (-0.498, 0.17),
             (-0.385, 0.15), (-0.20, 0.13), (0.0, 0.09), (0.6, 0.10), (1.05, 0.06), (1.3, 0.05)]
MN_DX2_DN = [(-2.0, -0.03), (-1.93, -0.03), (-1.894, -0.05), (-1.798, -0.09), (-1.754, -0.08), (-1.68, -0.06),
             (-1.636, -0.05), (-1.592, -0.07), (-1.533, -0.09), (-1.46, -0.06), (-1.416, -0.10), (-1.386, -0.07),
             (-1.357, -0.10), (-1.298, -0.09), (-1.268, -0.11), (-1.239, -0.25), (-1.224, -0.27), (-1.206, -0.21),
             (-1.188, -0.24), (-1.158, -0.16), (-1.121, -0.12), (-1.048, -0.11), (-0.997, -0.09), (-0.974, -0.12),
             (-0.962, -0.16), (-0.938, -0.12), (-0.851, -0.12), (-0.792, -0.07), (-0.724, -0.05), (-0.50, -0.07),
             (-0.385, -0.10), (-0.271, -0.16), (-0.257, -0.29), (-0.152, -0.24), (-0.137, -0.29), (-0.05, -0.27),
             (0.005, -0.25), (0.078, -0.32), (0.109, -0.22), (0.151, -0.15), (0.214, -0.13), (0.318, -0.22),
             (0.423, -0.25), (0.465, -0.36), (0.496, -0.25), (0.57, -0.32), (0.601, -0.29), (0.633, -0.36),
             (0.669, -0.55), (0.695, -0.39), (0.737, -0.36), (0.779, -0.32), (0.821, -0.24), (0.842, -0.36),
             (0.884, -0.24), (0.905, -0.29), (0.946, -0.18), (0.999, -0.11), (1.135, -0.13), (1.166, -0.25),
             (1.187, -0.59), (1.208, -0.50), (1.24, -0.47), (1.26, -0.66), (1.30, -0.59)]

SERIES = [
    ("Co (dxy)", CO_DXY_UP, CO_DXY_DN, "#F0A3FF", "legend"),
    ("Co (dyz)", CO_DYZ_UP, CO_DYZ_DN, "#0075DC", "legend"),
    ("Co (dz2)", CO_DZ2_UP, CO_DZ2_DN, "#993F00", "legend"),
    ("Co (dxz)", CO_DXZ_UP, CO_DXZ_DN, "#4C005C", "legend"),
    ("Co (dx2)", CO_DX2_UP, CO_DX2_DN, "#426600", "legend"),
    ("Mn (dxy)", MN_DXY_UP, MN_DXY_DN, "#FF0010", "legend2"),
    ("Mn (dyz)", MN_DYZ_UP, MN_DYZ_DN, "#9DCC00", "legend2"),
    ("Mn (dz2)", MN_DZ2_UP, MN_DZ2_DN, "#C20088", "legend2"),
    ("Mn (dxz)", MN_DXZ_UP, MN_DXZ_DN, "#003380", "legend2"),
    ("Mn (dx2)", MN_DX2_UP, MN_DX2_DN, "#FFA405", "legend2"),
]


def rgba(hex_color, alpha):
    h = hex_color.lstrip("#")
    r, g, b = int(h[0:2], 16), int(h[2:4], 16), int(h[4:6], 16)
    return f"rgba({r},{g},{b},{alpha})"


fig = go.Figure()
for name, up, dn, color, leg in SERIES:
    for curve in (up, dn):
        x, y = zip(*curve)
        fig.add_trace(go.Scatter(x=x, y=y, mode="lines", line=dict(width=0, color=color),
                                 fill="tozeroy", fillcolor=rgba(color, 0.25),
                                 showlegend=False, hoverinfo="skip"))
    for i, curve in enumerate((up, dn)):
        x, y = zip(*curve)
        # leading spaces give the gap between the legend line and its label
        fig.add_trace(go.Scatter(x=x, y=y, mode="lines", line=dict(width=16, color=color),
                                 name="\u00a0\u00a0\u2009" + name, legend=leg, legendgroup=name,
                                 showlegend=(i == 0)))

legend_style = dict(yanchor="top", xanchor="left", y=0.977, bgcolor="rgba(0,0,0,0)",
                    itemwidth=170, font=dict(size=104), tracegroupgap=14)

fig.update_layout(
    width=3955, height=2833,
    margin=dict(l=192, r=50, t=34, b=337),
    plot_bgcolor="white", paper_bgcolor="white",
    font=dict(family="Liberation Sans, Arial, sans-serif", size=114, color="black"),
    legend=dict(x=0.562, **legend_style),
    legend2=dict(x=0.794, **legend_style),
)
fig.update_xaxes(range=[-2.0, 1.3], tick0=0, dtick=0.5, tickformat=".1f",
                 ticks="inside", ticklen=70, tickwidth=6, tickcolor="black",
                 showline=True, linewidth=7, linecolor="black", mirror=True,
                 showgrid=False, zeroline=False, ticklabelstandoff=-12,
                 title=dict(text="Energy (eV)", standoff=30, font=dict(size=121)))
fig.update_yaxes(range=[-4.88, 4.88], showticklabels=False, ticks="",
                 showline=True, linewidth=7, linecolor="black", mirror=True,
                 showgrid=False, zeroline=False,
                 title=dict(text="Arb. units", standoff=27, font=dict(size=121)))

fig.write_html("out.html")
